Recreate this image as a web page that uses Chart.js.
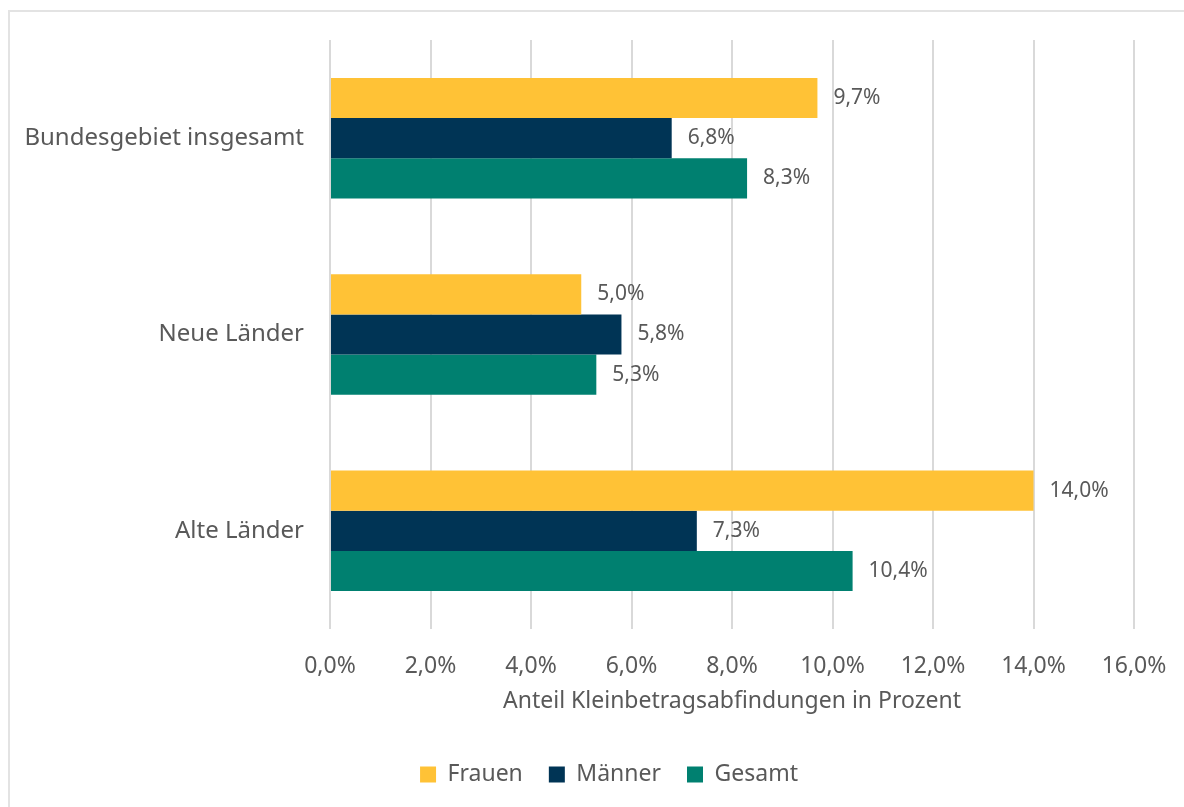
<!DOCTYPE html>
<html>
<head>
<meta charset="utf-8">
<script src="https://cdn.jsdelivr.net/npm/chart.js@4"></script>
<style>
  html, body { margin: 0; padding: 0; background: #fff; }
  #wrap { position: relative; width: 1184px; height: 807px; overflow: hidden; }
  #frame { position: absolute; left: 8px; top: 10px; width: 1300px; height: 900px; border: 2px solid #e3e3e3; box-sizing: border-box; }
  #c { position: absolute; left: 0; top: 0; }
</style>
</head>
<body>
<div id="wrap">
  <div id="frame"></div>
  <canvas id="c" width="1184" height="807"></canvas>
</div>
<script>
// Kategorien und Werte (Anteil in Prozent)
const regionen = ['Bundesgebiet insgesamt', 'Neue Länder', 'Alte Länder'];
const frauen = [9.7, 5.0, 14.0];
const maenner = [6.8, 5.8, 7.3];
const gesamt = [8.3, 5.3, 10.4];
const achsenTicks = [0, 2, 4, 6, 8, 10, 12, 14, 16];

const textFarbe = '#595959';
const schrift = "'Noto Sans', 'Open Sans', sans-serif";

const fmt = v => v.toFixed(1).replace('.', ',') + '%';

// Werte rechts neben die Balken schreiben
const wertLabels = {
    id: 'wertLabels',
    afterDatasetsDraw(chart) {
        const ctx = chart.ctx;
        ctx.save();
        ctx.font = '21px ' + schrift;
        ctx.fillStyle = textFarbe;
        ctx.textAlign = 'left';
        ctx.textBaseline = 'middle';
        chart.data.datasets.forEach((ds, i) => {
            chart.getDatasetMeta(i).data.forEach((bar, j) => {
                ctx.fillText(fmt(ds.data[j]), bar.x + 16, bar.y);
            });
        });
        ctx.restore();
    }
};

// Legende etwas nach rechts schieben
const legendeVersatz = {
    id: 'legendeVersatz',
    afterLayout(chart) {
        chart.legend.left += 7;
        chart.legend.right += 7;
    }
};

new Chart(document.getElementById('c'), {
    type: 'bar',
    data: {
        labels: regionen,
        datasets: [
            { label: 'Frauen', data: frauen, backgroundColor: '#FFC236' },
            { label: 'Männer', data: maenner, backgroundColor: '#003455' },
            { label: 'Gesamt', data: gesamt, backgroundColor: '#008070' }
        ]
    },
    options: {
        indexAxis: 'y',
        responsive: false,
        animation: false,
        categoryPercentage: 0.614,
        barPercentage: 1.0,
        layout: { padding: { left: 20, right: 0, top: 40, bottom: 11 } },
        plugins: {
            legend: {
                position: 'bottom',
                labels: {
                    boxWidth: 16,
                    boxHeight: 16,
                    padding: 26,
                    color: textFarbe,
                    font: { family: schrift, size: 23 }
                }
            },
            tooltip: { enabled: false }
        },
        scales: {
            x: {
                min: 0,
                max: 16,
                afterBuildTicks(scale) {
                    scale.ticks = achsenTicks.map(v => ({ value: v }));
                },
                afterFit(scale) {
                    scale.height = 108;
                    scale.paddingRight = 50;
                },
                grid: { color: '#d9d9d9', lineWidth: 2, drawTicks: false },
                border: { display: false },
                ticks: {
                    padding: 24,
                    color: textFarbe,
                    font: { family: schrift, size: 23 },
                    callback: v => fmt(v)
                },
                title: {
                    display: true,
                    text: 'Anteil Kleinbetragsabfindungen in Prozent',
                    color: textFarbe,
                    font: { family: schrift, size: 23 },
                    padding: { top: 0, bottom: 22 }
                }
            },
            y: {
                afterFit(scale) { scale.width = 310; },
                grid: { display: false },
                border: { display: false },
                ticks: {
                    padding: 18,
                    color: textFarbe,
                    font: { family: schrift, size: 24 }
                }
            }
        }
    },
    plugins: [wertLabels, legendeVersatz]
});
</script>
</body>
</html>
